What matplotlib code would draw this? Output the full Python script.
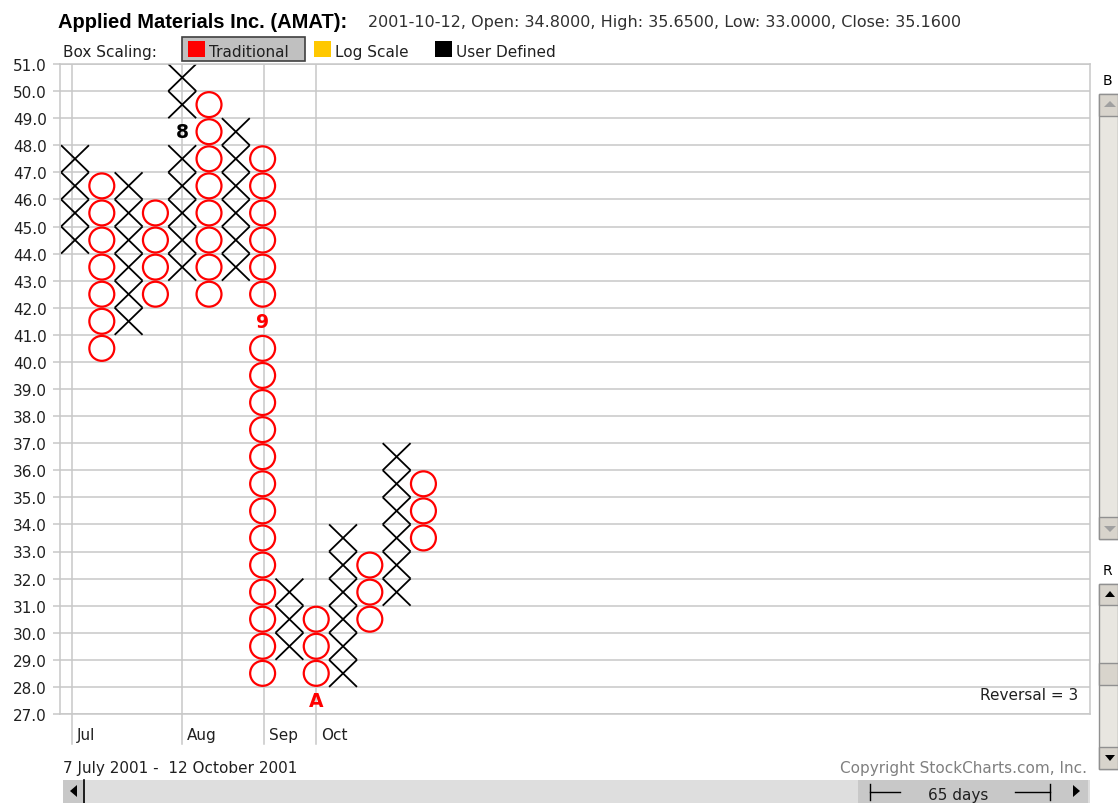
import numpy as np
import matplotlib.pyplot as plt
from matplotlib.patches import Ellipse, Rectangle, Polygon

# point & figure columns: kind, lowest box, highest box
col_kind = ['X', 'O', 'X', 'O', 'X', 'O', 'X', 'O', 'X', 'O', 'X', 'O', 'X', 'O']
col_low = [44, 40, 41, 42, 43, 42, 43, 28, 29, 27, 28, 30, 31, 33]
col_high = [47, 46, 46, 45, 50, 49, 48, 47, 31, 30, 33, 32, 36, 35]

# month markers replace a box: column, box, label
month_col = [5, 8, 10]
month_box = [48, 41, 27]
month_lbl = ['8', '9', 'A']

# month gridlines (column position) and labels
month_pos = [0.89, 5.0, 8.06, 10.0]
month_names = ['Jul', 'Aug', 'Sep', 'Oct']

y_ticks = np.arange(27, 52)

W, H = 1118, 804
GRID = '#c8c8c8'
RED = '#ff0000'
TXT = '#202020'
FS = 11

def fx(x):
    return x / W

def fy(y):
    return 1 - y / H

fig = plt.figure(figsize=(W / 100, H / 100), dpi=100)
fig.patch.set_facecolor('white')
ax = fig.add_axes([fx(60), fy(715), fx(1090) - fx(60), fy(65) - fy(715)])

ax.set_xlim(0.44, 38.87)
ax.set_ylim(27, 51)
ax.set_yticks(y_ticks)
ax.set_yticklabels(['%.1f' % v for v in y_ticks])
ax.set_xticks([])
ax.tick_params(axis='y', length=5, width=1.1, color=GRID, pad=4.5,
               labelsize=FS, labelcolor=TXT)
for s in ax.spines.values():
    s.set_color(GRID)
    s.set_linewidth(1.1)
for v in y_ticks:
    ax.axhline(v, color=GRID, lw=1.1, zorder=0)

# month lines run below the plot a bit
for m, name in zip(month_pos, month_names):
    ax.plot([m, m], [51, 27], color=GRID, lw=1.1, zorder=0)
    ax.plot([m, m], [27, 27 - 30 / 27.08], color=GRID, lw=1.1, clip_on=False)
    ax.text(m + 0.19, 27 - 20 / 27.08, name, fontsize=FS, ha='left', va='center',
            color=TXT)

skip = {(c, b): l for c, b, l in zip(month_col, month_box, month_lbl)}

for i, (k, lo, hi) in enumerate(zip(col_kind, col_low, col_high)):
    c = i + 1
    for b in range(lo, hi + 1):
        if (c, b) in skip:
            ax.text(c, b + 0.5, skip[(c, b)], ha='center', va='center',
                    fontsize=13.5, fontweight='bold',
                    color='black' if k == 'X' else RED)
            continue
        if k == 'X':
            hw = 0.52
            ax.plot([c - hw, c + hw], [b, b + 1], color='black', lw=1.3,
                    solid_capstyle='butt')
            ax.plot([c - hw, c + hw], [b + 1, b], color='black', lw=1.3,
                    solid_capstyle='butt')
        else:
            ax.add_patch(Ellipse((c, b + 0.5), 0.93, 0.92, fill=False,
                                 edgecolor=RED, lw=1.6))

ax.text(0.9885, 0.018, 'Reversal = 3', transform=ax.transAxes, ha='right',
        va='bottom', fontsize=FS, color=TXT)

# header
fig.text(fx(58), fy(28), 'Applied Materials Inc. (AMAT):', fontsize=14.5,
         fontweight='bold', family='Liberation Sans', va='baseline')
fig.text(fx(368), fy(27),
         '2001-10-12, Open: 34.8000, High: 35.6500, Low: 33.0000, Close: 35.1600',
         fontsize=11.5, va='baseline', color='#303030')
fig.text(fx(63), fy(57), 'Box Scaling:', fontsize=FS, va='baseline', color=TXT)
fig.add_artist(Rectangle((fx(182), fy(62)), fx(305) - fx(182), fy(38) - fy(62),
                         facecolor='#c0c0c0', edgecolor='#404040', lw=1.2,
                         transform=fig.transFigure))
for x0, col, lbl in [(188, RED, 'Traditional'), (314, '#ffc800', 'Log Scale'),
                     (435, 'black', 'User Defined')]:
    fig.add_artist(Rectangle((fx(x0), fy(58)), fx(17), 16 / H,
                             facecolor=col, edgecolor='none',
                             transform=fig.transFigure))
    fig.text(fx(x0 + 21), fy(57), lbl, fontsize=FS, va='baseline', color=TXT)

# footer
fig.text(fx(63), fy(773), '7 July 2001 -  12 October 2001', fontsize=FS,
         va='baseline', color=TXT)
fig.text(fx(1087), fy(773), 'Copyright StockCharts.com, Inc.', fontsize=FS,
         va='baseline', ha='right', color='#808080')

def rect(x0, y0, x1, y1, fc, ec='none', lw=0):
    fig.add_artist(Rectangle((fx(x0), fy(y1)), fx(x1) - fx(x0), fy(y0) - fy(y1),
                             facecolor=fc, edgecolor=ec, lw=lw,
                             transform=fig.transFigure))

def tri(pts, fc='black'):
    fig.add_artist(Polygon([(fx(a), fy(b)) for a, b in pts], closed=True,
                           facecolor=fc, edgecolor='none', transform=fig.transFigure))

def seg(x0, y0, x1, y1, lw=1):
    fig.add_artist(plt.Line2D([fx(x0), fx(x1)], [fy(y0), fy(y1)], color='black',
                              lw=lw, transform=fig.transFigure))

# bottom scroll bar
rect(63, 781, 1090, 804, '#dedede')
rect(63, 781, 85, 804, '#c8c8c8')
tri([(70, 792), (77, 786), (77, 798)])
seg(84, 781, 84, 804, 1.2)
rect(858, 781, 1065, 804, '#c8c8c8')
fig.text(fx(958), fy(800), '65 days', fontsize=FS, ha='center', va='baseline',
         color=TXT)
seg(870, 793, 900, 793)
seg(1015, 793, 1050, 793)
seg(870, 785, 870, 801)
seg(1050, 785, 1050, 801)
rect(1065, 781, 1088, 804, '#c8c8c8')
tri([(1080, 792), (1073, 786), (1073, 798)])

# right side scroll bars
fig.text(fx(1103), fy(85), 'B', fontsize=10, va='baseline')
rect(1099, 95, 1118, 540, '#e8e6e0', '#909090', 1)
rect(1099, 95, 1118, 117, '#d8d4cc', '#909090', 1)
rect(1099, 518, 1118, 540, '#d8d4cc', '#909090', 1)
tri([(1104, 108), (1110, 102), (1116, 108)], '#a0a0a0')
tri([(1104, 527), (1110, 533), (1116, 527)], '#a0a0a0')
fig.text(fx(1103), fy(575), 'R', fontsize=10, va='baseline')
rect(1099, 585, 1118, 770, '#e8e6e0', '#909090', 1)
rect(1099, 585, 1118, 606, '#d8d4cc', '#909090', 1)
rect(1099, 664, 1118, 686, '#d8d4cc', '#909090', 1)
rect(1099, 748, 1118, 770, '#d8d4cc', '#909090', 1)
tri([(1105, 598), (1110, 592), (1115, 598)])
tri([(1105, 756), (1110, 762), (1115, 756)])

fig.savefig('out.png', dpi=100)
